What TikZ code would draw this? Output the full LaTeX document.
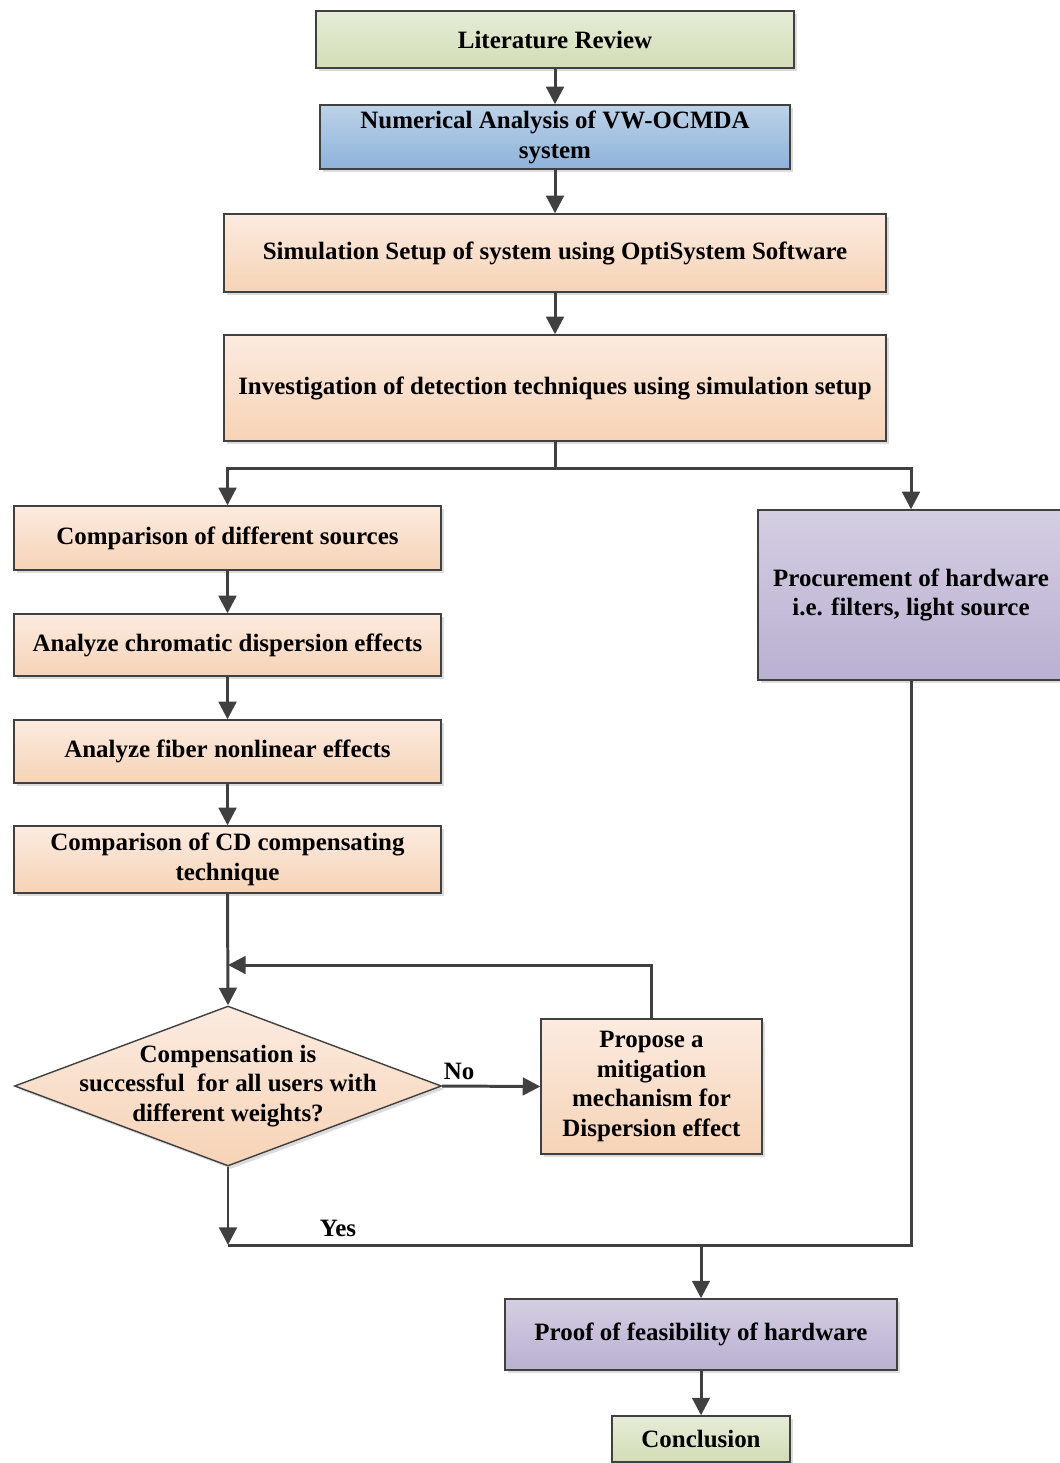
\documentclass[tikz,border=0pt]{standalone}
\usepackage{fontspec}
\setmainfont{Liberation Serif}
\usetikzlibrary{arrows.meta,shapes.geometric,shadows}

\definecolor{linecol}{HTML}{404040}
\definecolor{greentop}{HTML}{E6ECD8}
\definecolor{greenbot}{HTML}{D3DDB6}
\definecolor{bluetop}{HTML}{BDD2E8}
\definecolor{bluebot}{HTML}{8DB3DA}
\definecolor{orangetop}{HTML}{FCEBE0}
\definecolor{orangebot}{HTML}{F6D3B6}
\definecolor{purpletop}{HTML}{D4CEE2}
\definecolor{purplebot}{HTML}{BAB0D2}

\tikzset{
	box/.style={draw=linecol, line width=0.8pt, align=center, inner sep=2pt,
		font=\fontsize{14.2}{17}\selectfont\bfseries,
		drop shadow={shadow xshift=0.06cm, shadow yshift=-0.06cm, fill=black!30, opacity=0.45}},
	greenbox/.style={box, top color=greentop, bottom color=greenbot},
	bluebox/.style={box, top color=bluetop, bottom color=bluebot},
	orangebox/.style={box, top color=orangetop, bottom color=orangebot},
	purplebox/.style={box, top color=purpletop, bottom color=purplebot},
	decision/.style={box, shape=diamond, top color=orangetop, bottom color=orangebot},
	conn/.style={draw=linecol, line width=1.7pt, -{Triangle[length=10pt,width=10pt]}},
	plain/.style={draw=linecol, line width=1.7pt},
	lbl/.style={font=\fontsize{14.2}{17}\selectfont\bfseries}
}

\begin{document}
\begin{tikzpicture}[x=0.02cm, y=-0.02cm]
	\useasboundingbox (0,0) rectangle (1059,1463);
	
	% Top chain
	\node[greenbox, minimum width=9.56cm, minimum height=1.14cm] (lit) at (555,39.5) {Literature Review};
	\node[bluebox, minimum width=9.4cm, minimum height=1.28cm] (num) at (555,137) {Numerical Analysis of VW-OCMDA\\system};
	\node[orangebox, minimum width=13.24cm, minimum height=1.56cm] (sim) at (555,253) {Simulation Setup of system using OptiSystem Software};
	\node[orangebox, minimum width=13.24cm, minimum height=2.12cm] (inv) at (555,388) {Investigation of detection techniques using simulation setup};
	
	% Left branch
	\node[orangebox, minimum width=8.54cm, minimum height=1.28cm] (src) at (227.5,538) {Comparison of different sources};
	\node[orangebox, minimum width=8.54cm, minimum height=1.24cm] (chrom) at (227.5,645) {Analyze chromatic dispersion effects};
	\node[orangebox, minimum width=8.54cm, minimum height=1.26cm] (fiber) at (227.5,751.5) {Analyze fiber nonlinear effects};
	\node[orangebox, minimum width=8.54cm, minimum height=1.34cm] (cd) at (227.5,859.5) {Comparison of CD compensating\\technique};
	
	% Decision and mitigation
	\node[decision, minimum width=8.54cm, minimum height=3.2cm] (dec) at (228,1086) {};
	\node[lbl, align=center] (dectext) at (dec) {Compensation is\\successful~ for all users with\\different weights?};
	\node[orangebox, minimum width=4.42cm, minimum height=2.7cm] (prop) at (651.5,1086.5) {Propose a\\mitigation\\mechanism for\\Dispersion effect};
	
	% Right branch
	\node[purplebox, minimum width=6.12cm, minimum height=3.4cm] (proc) at (911,595) {Procurement of hardware\\i.e. filters, light source};
	
	% Bottom
	\node[purplebox, minimum width=7.84cm, minimum height=1.42cm] (proof) at (701,1334.5) {Proof of feasibility of hardware};
	\node[greenbox, minimum width=3.56cm, minimum height=0.92cm] (concl) at (701,1439) {Conclusion};
	
	% Labels
	\node[lbl] (no) at (459,1071) {No};
	\node[lbl] (yes) at (338,1228) {Yes};
	
	% Junction points
	\coordinate (loop) at (228,965);
	\coordinate (yesend) at (228,1245);
	\coordinate (merge) at (701,1245);
	
	% Connectors
	\draw[conn] (lit) -- (num);
	\draw[conn] (num) -- (sim);
	\draw[conn] (sim) -- (inv);
	\draw[conn] (inv.south) -- ++(0,27) -| (src.north);
	\draw[conn] (inv.south) -- ++(0,27) -| (proc.north);
	\draw[conn] (src) -- (chrom);
	\draw[conn] (chrom) -- (fiber);
	\draw[conn] (fiber) -- (cd);
	\draw[conn] (cd.south) -- (dec.north);
	\draw[conn] (dec.east) -- (prop.west);
	\draw[conn] (prop.north) |- (loop);
	\draw[conn] (dec.south) -- (yesend);
	\draw[plain] (proc.south) |- (yesend);
	\draw[conn] (merge) -- (proof.north);
	\draw[conn] (proof) -- (concl);
\end{tikzpicture}
\end{document}
